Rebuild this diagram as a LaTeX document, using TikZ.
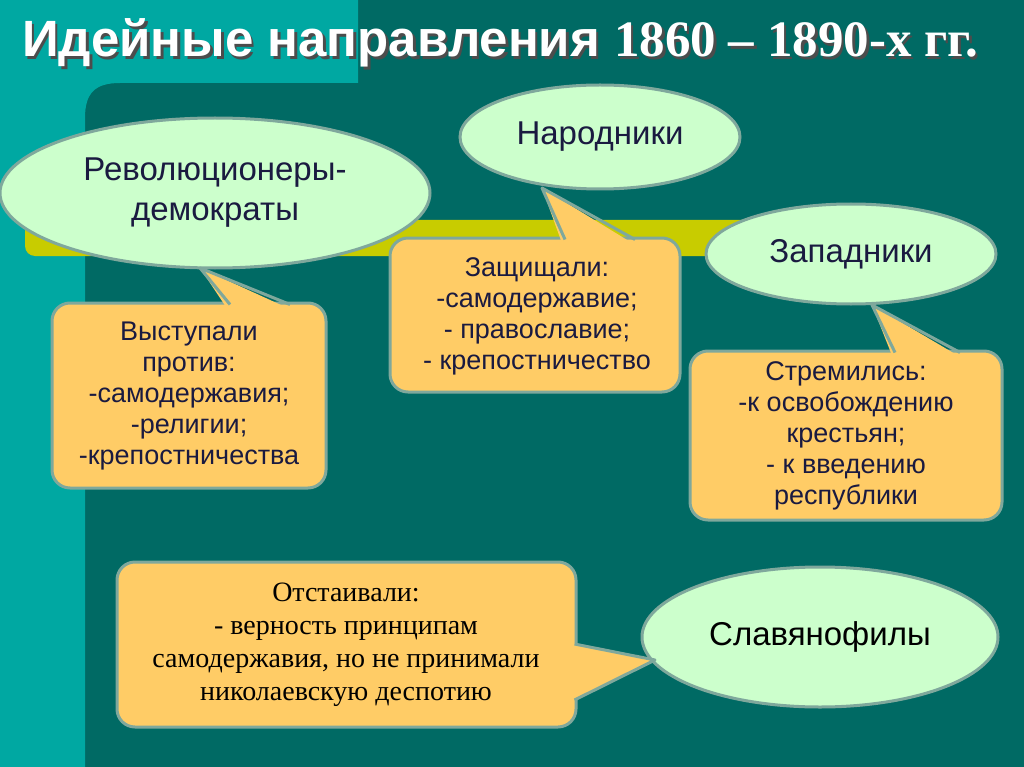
\documentclass[tikz,border=0pt]{standalone}
\usepackage{fontspec}
\setmainfont{Liberation Sans}
\newfontfamily\serifA{Liberation Serif}
\usetikzlibrary{shapes.geometric}
\definecolor{dteal}{HTML}{006A64}
\definecolor{lteal}{HTML}{00A8A2}
\definecolor{barcol}{HTML}{C8CC00}
\definecolor{lgreen}{HTML}{CCFFCC}
\definecolor{orng}{HTML}{FFCC66}
\definecolor{bord}{HTML}{7FA89C}
\definecolor{navy}{HTML}{1A1A40}
\tikzset{
  oval/.style={ellipse,fill=lgreen,draw=bord,line width=3pt,inner sep=0pt,text=navy,font=\fontsize{33}{40}\selectfont,align=center},
  cbox/.style={fill=orng,draw=bord,line width=3pt,rounded corners=18pt},
  ctri/.style={fill=orng},
  cside/.style={draw=bord,line width=3pt,line join=round},
  btext/.style={text=navy,font=\fontsize{27}{31}\selectfont,align=center},
}
\begin{document}
\begin{tikzpicture}[x=1pt,y=-1pt]
\useasboundingbox (0,0) rectangle (1024,767);
\fill[dteal] (0,0) rectangle (1024,767);
\fill[lteal] (0,0) -- (358,0) -- (358,83) -- (120,83) .. controls (95,83) and (85,93) .. (85,118) -- (85,767) -- (0,767) -- cycle;
% yellow bar
\fill[fill=barcol,rounded corners=10pt] (25,220) rectangle (760,256);
% title
\node[anchor=base west,text=black!70,font=\bfseries\fontsize{51}{55}\selectfont,inner sep=0pt] (tshadow) at (24.5,59.5) {Идейные направления {\serifA 1860 – 1890-х гг.}};
\node[anchor=base west,text=white,font=\bfseries\fontsize{51}{55}\selectfont,inner sep=0pt] (title) at (22,57) {Идейные направления {\serifA 1860 – 1890-х гг.}};
% ellipses
\node[oval,minimum width=430pt,minimum height=150pt] (rev) at (215,193) {Революционеры-\\демократы};
\node[oval,minimum width=280pt,minimum height=104pt] (nar) at (600,137) {Народники};
\node[oval,minimum width=290pt,minimum height=100pt] (zap) at (851,254) {Западники};
\node[oval,minimum width=356pt,minimum height=140pt,text=black] (slav) at (820,637) {Славянофилы};
% left callout
\draw[cbox] (52,303) rectangle (326,488);
\fill[ctri] (200,268) -- (228,310) -- (292,310) -- cycle;
\draw[cside] (230,304.5) -- (200,268) -- (290,304.5);
\node[btext] (t1) at (189,396) {Выступали\\против:\\-самодержавия;\\-религии;\\-крепостничества};
% middle callout
\draw[cbox] (390,238) rectangle (680,392);
\fill[ctri] (542,188) -- (563,246) -- (637,246) -- cycle;
\draw[cside] (565,239.5) -- (542,188) -- (635,239.5);
\node[btext] (t2) at (537,316) {Защищали:\\-самодержавие;\\- православие;\\- крепостничество};
% right callout
\draw[cbox] (690,351) rectangle (1002,520);
\fill[ctri] (872,305) -- (893,358) -- (962,358) -- cycle;
\draw[cside] (895,352.5) -- (872,305) -- (960,352.5);
\node[btext] (t3) at (846,436) {Стремились:\\-к освобождению\\крестьян;\\- к введению\\республики};
% bottom callout
\draw[cbox] (117,562) rectangle (576,727);
\fill[ctri] (655,660) -- (568,642) -- (568,702) -- cycle;
\draw[cside] (574.5,644) -- (655,660) -- (574.5,700);
\node[text=black,font=\serifA\fontsize{28}{33}\selectfont,align=center] (t4) at (346,645) {Отстаивали:\\- верность принципам\\самодержавия, но не принимали\\николаевскую деспотию};
\end{tikzpicture}
\end{document}
